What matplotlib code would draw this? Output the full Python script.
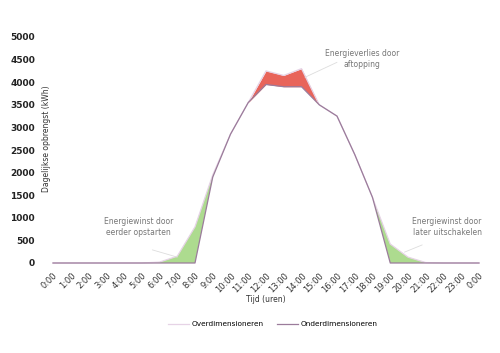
import matplotlib.pyplot as plt
import numpy as np

uren = ['%d:00' % h for h in range(24)] + ['0:00']
over = [0, 0, 0, 0, 0, 0, 20, 150, 800, 1950, 2850, 3550, 4250, 4150, 4300,
        3500, 3250, 2400, 1450, 420, 130, 10, 0, 0, 0]
onder = [0, 0, 0, 0, 0, 0, 0, 0, 0, 1900, 2850, 3550, 3950, 3900, 3900,
         3500, 3250, 2400, 1450, 0, 0, 0, 0, 0, 0]

x = np.arange(len(uren))
over = np.array(over)
onder = np.array(onder)

fig = plt.figure(figsize=(5, 3.53), dpi=100)
ax = fig.add_axes([53/500, 90/353, 426/500, 226/353])

# winst (groen) en verlies (rood)
ax.fill_between(x, onder, over, where=(x <= 9) | (x >= 18), color='#addb8f', lw=0, interpolate=True)
ax.fill_between(x, onder, over, where=(x >= 11) & (x <= 15), color='#e8645a', lw=0, interpolate=True)

ax.plot(x, over, color='#e6d3e6', lw=0.9, label='Overdimensioneren', clip_on=False)
ax.plot(x, onder, color='#9b7c9b', lw=0.9, label='Onderdimensioneren', clip_on=False)

ax.set_xlim(0, 24)
ax.set_ylim(0, 5000)
ax.set_yticks(np.arange(0, 5001, 500))
ax.set_xticks(x)
ax.set_xticklabels(uren, rotation=45, ha='right', rotation_mode='anchor', fontsize=6, color='#333333')
ax.tick_params(axis='y', length=0, pad=13, labelsize=6.5, labelcolor='#222222')
ax.tick_params(axis='x', length=0, pad=6)
for lab in ax.get_yticklabels():
    lab.set_fontweight('semibold')
for s in ax.spines.values():
    s.set_visible(False)

ax.set_ylabel('Dagelijkse opbrengst (kWh)', fontsize=5.5, color='#333333')
ax.yaxis.set_label_coords(-0.005, 0.55)
ax.set_xlabel('Tijd (uren)', fontsize=5.5, color='#333333', labelpad=0)

grijs = '#777777'
lijn = dict(arrowstyle='-', color='#dddddd', lw=0.6, shrinkA=0, shrinkB=0)
ax.text(4.8, 800, 'Energiewinst door\neerder opstarten', ha='center', va='center',
        fontsize=5.5, color=grijs, linespacing=1.3)
ax.annotate('', xy=(7.0, 130), xytext=(5.6, 290), arrowprops=lijn)
ax.text(17.4, 4510, 'Energieverlies door\naftopping', ha='center', va='center',
        fontsize=5.5, color=grijs, linespacing=1.3)
ax.annotate('', xy=(14.2, 4110), xytext=(16.0, 4440), arrowprops=lijn)
ax.text(22.2, 800, 'Energiewinst door\nlater uitschakelen', ha='center', va='center',
        fontsize=5.5, color=grijs, linespacing=1.3)
ax.annotate('', xy=(19.8, 240), xytext=(20.8, 400), arrowprops=lijn)

fig.legend(loc='center', bbox_to_anchor=(0.546, 29/353), ncol=2, frameon=False,
           fontsize=5.3, handlelength=2.8, columnspacing=1.8, handletextpad=0.4)

fig.savefig('out.png', dpi=100)
